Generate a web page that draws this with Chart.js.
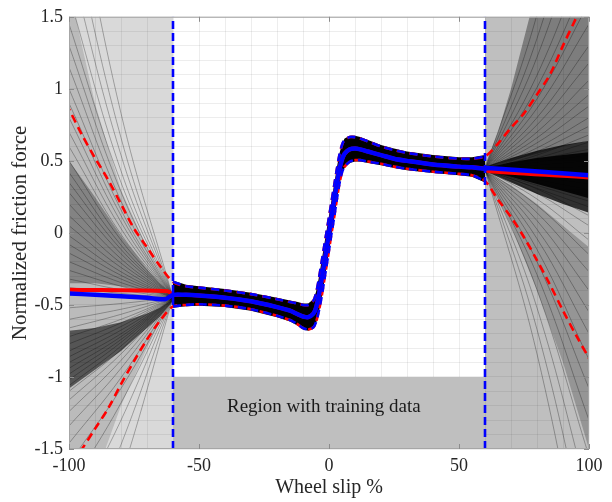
<!DOCTYPE html>
<html>
<head>
<meta charset="utf-8">
<script src="https://cdn.jsdelivr.net/npm/chart.js@4.4.1/dist/chart.umd.min.js"></script>
<style>
html,body{margin:0;padding:0;background:#fff;}
#wrap{width:612px;height:502px;}
</style>
</head>
<body>
<div id="wrap"><canvas id="c" width="612" height="502"></canvas></div>
<script>
// ---------------- DATA ----------------
const xTickLabels = [-100, -50, 0, 50, 100];
const yTickLabels = [-1.5, -1, -0.5, 0, 0.5, 1, 1.5];
const trainingBounds = [-60, 60];
const regionX = [-60, 60];
const regionY = [-1.5, -1];
const regionText = "Region with training data";

// core (training region) curves
const coreX =     [-60, -55, -50, -40, -30, -20, -15, -12, -10, -8, -6, -5, -4, -3, -2, -1, 0, 1, 2, 3, 4, 5, 6, 8, 10, 12, 15, 20, 25, 30, 40, 50, 55, 60];
const coreMean =  [-0.43, -0.43, -0.435, -0.45, -0.475, -0.515, -0.54, -0.565, -0.58, -0.585, -0.56, -0.52, -0.44, -0.34, -0.23, -0.115, 0.0, 0.115, 0.23, 0.34, 0.44, 0.51, 0.55, 0.58, 0.585, 0.58, 0.565, 0.54, 0.515, 0.50, 0.475, 0.46, 0.455, 0.445];
const coreUpper = [-0.34, -0.37, -0.38, -0.40, -0.425, -0.46, -0.48, -0.49, -0.50, -0.50, -0.47, -0.42, -0.33, -0.22, -0.11, 0.0, 0.11, 0.22, 0.33, 0.44, 0.54, 0.61, 0.645, 0.665, 0.665, 0.655, 0.635, 0.60, 0.575, 0.555, 0.53, 0.515, 0.515, 0.53];
const coreLower = [-0.51, -0.50, -0.495, -0.505, -0.53, -0.575, -0.605, -0.635, -0.66, -0.67, -0.655, -0.62, -0.55, -0.46, -0.35, -0.235, -0.12, 0.0, 0.11, 0.23, 0.34, 0.42, 0.46, 0.495, 0.505, 0.505, 0.495, 0.48, 0.46, 0.445, 0.425, 0.41, 0.40, 0.36];
const cloudHi =   [-0.33, -0.36, -0.37, -0.39, -0.415, -0.45, -0.47, -0.48, -0.49, -0.49, -0.46, -0.41, -0.32, -0.21, -0.10, 0.01, 0.12, 0.23, 0.34, 0.45, 0.55, 0.62, 0.655, 0.675, 0.675, 0.665, 0.645, 0.61, 0.585, 0.565, 0.54, 0.525, 0.525, 0.54];
const cloudLo =   [-0.52, -0.51, -0.505, -0.515, -0.54, -0.585, -0.615, -0.645, -0.67, -0.68, -0.665, -0.63, -0.56, -0.47, -0.36, -0.245, -0.13, -0.01, 0.10, 0.22, 0.33, 0.41, 0.45, 0.485, 0.495, 0.495, 0.485, 0.47, 0.45, 0.435, 0.415, 0.40, 0.39, 0.35];

// extrapolation bounds (red dashed)
const leftX = [-100, -95, -90, -85, -80, -75, -70, -65];
const leftUpper = [0.86, 0.68, 0.52, 0.37, 0.20, 0.03, -0.10, -0.23];
const leftLower = [-1.63, -1.50, -1.36, -1.22, -1.05, -0.89, -0.74, -0.61];
const rightX = [65, 70, 75, 80, 85, 90, 95, 100];
const rightUpper = [0.62, 0.73, 0.83, 0.96, 1.10, 1.30, 1.49, 1.68];
const rightLower = [0.23, 0.11, -0.03, -0.19, -0.36, -0.54, -0.71, -0.87];

// extrapolated means
const blueLeftX = [-100, -90, -80, -70, -63];
const blueLeftY = [-0.42, -0.43, -0.44, -0.45, -0.46];
const redLeftX = [-100, -62];
const redLeftY = [-0.395, -0.405];
const blueRightX = [61, 100];
const blueRightY = [0.45, 0.40];
const redRightX = [61, 100];
const redRightY = [0.43, 0.385];

// sample-curve fan lines: value at junction, at mid (x=-80 / x=80) and at edge (x=-100 / x=100)
const leftFanStart = -0.45;
const leftFanMid = [0.83, 0.66, 0.54, 0.43, 0.35, 0.285, 0.22, 0.16, 0.12, 0.075, 0.03, -0.01, -0.05, -0.085, -0.115, -0.145, -0.18, -0.21, -0.24, -0.27, -0.295, -0.32, -0.345, -0.37, -0.395, -0.42,
  -0.49, -0.53, -0.565, -0.60, -0.625, -0.65, -0.675, -0.70, -0.72, -0.74, -0.76, -0.785, -0.81, -0.84, -0.885, -0.94, -1.005, -1.08, -1.18, -1.30, -1.47, -1.69];
const leftFanEnd = [2.6, 2.2, 1.9, 1.65, 1.45, 1.3, 1.15, 1.0, 0.9, 0.8, 0.7, 0.6, 0.5, 0.42, 0.35, 0.28, 0.2, 0.12, 0.05, -0.02, -0.08, -0.14, -0.2, -0.26, -0.32, -0.38,
  -0.52, -0.6, -0.66, -0.72, -0.77, -0.82, -0.86, -0.9, -0.94, -0.98, -1.02, -1.06, -1.1, -1.16, -1.24, -1.34, -1.46, -1.6, -1.78, -2.0, -2.3, -2.7];
const rightFanStart = 0.44;
const rightFanMid = [1.515, 1.35, 1.22, 1.095, 1.01, 0.93, 0.865, 0.80, 0.75, 0.70, 0.66, 0.625, 0.59, 0.565, 0.54, 0.52,
  0.51, 0.49, 0.47, 0.45, 0.43, 0.41, 0.39, 0.37, 0.35, 0.33, 0.31,
  0.305, 0.275, 0.235, 0.19, 0.14, 0.085, 0.025, -0.04, -0.115, -0.20, -0.29, -0.395, -0.52, -0.67, -0.84];
const rightFanEnd = [3.0, 2.6, 2.3, 2.0, 1.8, 1.6, 1.45, 1.3, 1.18, 1.06, 0.96, 0.88, 0.8, 0.74, 0.68, 0.63,
  0.58, 0.54, 0.5, 0.46, 0.42, 0.38, 0.34, 0.3, 0.26, 0.22, 0.18,
  0.12, 0.05, -0.05, -0.15, -0.27, -0.4, -0.55, -0.7, -0.88, -1.08, -1.3, -1.55, -1.85, -2.2, -2.6];

// density wedges of the sample cloud outside the training region
const leftWedgeX = [-60, -65, -70, -80, -90, -100];
const leftRegionHi = [1.5, 1.5, 1.5, 1.5, 1.5, 1.5];
const leftRegionLo = [-1.5, -1.5, -1.5, -1.5, -1.5, -1.5];
const leftWideHi = [-0.44, -0.28, -0.1, 0.3, 0.9, 1.7];
const leftWideLo = [-0.46, -0.62, -0.8, -1.2, -1.7, -2.3];
const leftUpHi = [-0.43, -0.35, -0.25, -0.02, 0.25, 0.5];
const leftUpLo = [-0.45, -0.42, -0.40, -0.37, -0.35, -0.35];
const leftLowHi = [-0.46, -0.52, -0.56, -0.62, -0.66, -0.68];
const leftLowLo = [-0.47, -0.58, -0.66, -0.82, -0.95, -1.08];
const rightWedgeX = [60, 65, 70, 80, 90, 100];
const rightRegionHi = [1.5, 1.5, 1.5, 1.5, 1.5, 1.5];
const rightRegionLo = [-1.5, -1.5, -1.5, -1.5, -1.5, -1.5];
const rightUpHi = [0.47, 0.7, 1.0, 1.7, 2.5, 3.3];
const rightUpLo = [0.45, 0.48, 0.5, 0.55, 0.6, 0.64];
const rightLowHi = [0.43, 0.38, 0.33, 0.2, 0.05, -0.1];
const rightLowLo = [0.43, 0.24, 0.05, -0.4, -0.9, -1.5];
const rightCoreHi = [0.46, 0.49, 0.52, 0.57, 0.61, 0.64];
const rightCoreLo = [0.43, 0.39, 0.35, 0.27, 0.2, 0.14];
const rightInnerHi = [0.455, 0.47, 0.49, 0.52, 0.54, 0.56];
const rightInnerLo = [0.435, 0.41, 0.39, 0.34, 0.29, 0.24];

// ---------------- BUILD ----------------
const pts = (xs, ys) => xs.map((x, i) => ({x, y: ys[i]}));
const poly = (xs, hi, lo) => pts(xs, hi).concat(pts(xs, lo).reverse());
const datasets = [];
function add(d) { datasets.push(Object.assign({pointRadius: 0, borderWidth: 0, fill: false, tension: 0, showLine: true}, d)); }

// blue vertical dashed lines
trainingBounds.forEach(b => add({data: [{x: b, y: -1.5}, {x: b, y: 1.5}], borderColor: '#0000ff', borderWidth: 2.6, borderDash: [8, 4], order: 0}));

// means
const blueMean = pts(blueLeftX, blueLeftY).concat(pts(coreX, coreMean), pts(blueRightX, blueRightY));
const redMean = pts(redLeftX, redLeftY).concat(pts(coreX, coreMean), pts(redRightX, redRightY));
add({data: blueMean, borderColor: '#0000ff', borderWidth: 4.5, tension: 0.3, order: 1});
add({data: redMean, borderColor: '#ff0000', borderWidth: 4, tension: 0.3, order: 2});

// blue dashed bounds (training region)
add({data: pts(coreX, coreUpper), borderColor: '#0000ff', borderWidth: 2.6, borderDash: [8, 5], tension: 0.3, order: 3});
add({data: pts(coreX, coreLower), borderColor: '#0000ff', borderWidth: 2.6, borderDash: [8, 5], tension: 0.3, order: 3});
// red dashed bounds (full range)
add({data: pts(leftX, leftUpper).concat(pts(coreX, coreUpper), pts(rightX, rightUpper)), borderColor: '#ff0000', borderWidth: 2.6, borderDash: [8, 5], borderDashOffset: 6, tension: 0.3, order: 4});
add({data: pts(leftX, leftLower).concat(pts(coreX, coreLower), pts(rightX, rightLower)), borderColor: '#ff0000', borderWidth: 2.6, borderDash: [8, 5], borderDashOffset: 6, tension: 0.3, order: 4});

// black core cloud
add({data: poly(coreX, cloudHi, cloudLo), backgroundColor: '#000000', fill: 'shape', tension: 0, order: 5});

// fan lines
leftFanEnd.forEach((e, i) => add({data: [{x: -100, y: e}, {x: -80, y: leftFanMid[i]}, {x: -60, y: leftFanStart}], borderColor: 'rgba(0,0,0,0.42)', borderWidth: 0.7, tension: 0.4, order: 6}));
rightFanEnd.forEach((e, i) => add({data: [{x: 60, y: rightFanStart}, {x: 80, y: rightFanMid[i]}, {x: 100, y: e}], borderColor: 'rgba(0,0,0,0.42)', borderWidth: 0.7, tension: 0.4, order: 6}));

// density wedges
const wedge = (xs, hi, lo, a, ord) => add({data: poly(xs, hi, lo), backgroundColor: 'rgba(0,0,0,' + a + ')', fill: 'shape', tension: 0, order: ord});
wedge(leftWedgeX, leftRegionHi, leftRegionLo, 0.15, 8);
wedge(leftWedgeX, leftWideHi, leftWideLo, 0.14, 7);
wedge(leftWedgeX, leftUpHi, leftUpLo, 0.3, 7);
wedge(leftWedgeX, leftLowHi, leftLowLo, 0.55, 7);
wedge(rightWedgeX, rightRegionHi, rightRegionLo, 0.25, 8);
wedge(rightWedgeX, rightUpHi, rightUpLo, 0.35, 7);
wedge(rightWedgeX, rightLowHi, rightLowLo, 0.22, 7);
wedge(rightWedgeX, rightCoreHi, rightCoreLo, 0.75, 7);
wedge(rightWedgeX, rightInnerHi, rightInnerLo, 0.9, 7);

// gray training region
add({data: poly(regionX, [regionY[1], regionY[1]], [regionY[0], regionY[0]]), backgroundColor: '#bfbfbf', fill: 'shape', order: 9});

// ---------------- PLUGINS ----------------
const TXT = '#262626';
const boxPlugin = {
  id: 'box',
  afterDatasetsDraw(chart) {
    const {ctx, chartArea: a, scales: {x, y}} = chart;
    ctx.save();
    ctx.fillStyle = '#1a1a1a';
    ctx.font = '19px "Liberation Serif"';
    ctx.textAlign = 'center';
    ctx.textBaseline = 'middle';
    ctx.fillText(regionText, x.getPixelForValue(-2), y.getPixelForValue(-1.21));
    ctx.strokeStyle = '#a6a6a6';
    ctx.lineWidth = 1;
    ctx.strokeRect(a.left + 0.5, a.top + 0.5, a.right - a.left - 1, a.bottom - a.top - 1);
    ctx.strokeStyle = '#8c8c8c';
    ctx.beginPath();
    xTickLabels.forEach(v => {
      const px = Math.round(x.getPixelForValue(v)) + 0.5;
      ctx.moveTo(px, a.bottom); ctx.lineTo(px, a.bottom - 5);
      ctx.moveTo(px, a.top); ctx.lineTo(px, a.top + 5);
    });
    yTickLabels.forEach(v => {
      const py = Math.round(y.getPixelForValue(v)) + 0.5;
      ctx.moveTo(a.left, py); ctx.lineTo(a.left + 5, py);
      ctx.moveTo(a.right, py); ctx.lineTo(a.right - 5, py);
    });
    ctx.stroke();
    ctx.restore();
  }
};

const isLabel = (v, list) => list.some(t => Math.abs(t - v) < 1e-6);

new Chart(document.getElementById('c'), {
  type: 'scatter',
  data: {datasets},
  options: {
    responsive: false,
    animation: false,
    events: [],
    layout: {padding: {top: 11, right: 23, left: 0, bottom: 0}},
    plugins: {legend: {display: false}, tooltip: {enabled: false}},
    elements: {point: {radius: 0}},
    scales: {
      x: {
        type: 'linear', min: -100, max: 100,
        afterFit(s) { s.height = 53; },
        border: {display: false},
        grid: {color: 'rgba(0,0,0,0.07)', borderDash: [2, 3], drawTicks: false, lineWidth: 1},
        ticks: {stepSize: 10, autoSkip: false, maxRotation: 0, padding: 6, color: TXT,
          font: {family: 'Liberation Serif', size: 18},
          callback: v => isLabel(v, xTickLabels) ? String(Math.round(v)) : ''},
        title: {display: true, text: 'Wheel slip %', color: TXT, font: {family: 'Liberation Serif', size: 20}, padding: {top: 0, bottom: 2}}
      },
      y: {
        type: 'linear', min: -1.5, max: 1.5,
        afterFit(s) { s.width = 69; },
        border: {display: false},
        grid: {color: 'rgba(0,0,0,0.07)', borderDash: [2, 3], drawTicks: false, lineWidth: 1},
        ticks: {stepSize: 0.1, autoSkip: false, padding: 6, color: TXT,
          font: {family: 'Liberation Serif', size: 18},
          callback: v => { const r = Math.round(v * 10) / 10; return isLabel(r, yTickLabels) ? String(r) : ''; }},
        title: {display: true, text: 'Normalized friction force', color: TXT, font: {family: 'Liberation Serif', size: 21}, padding: {top: 8, bottom: 0}}
      }
    }
  },
  plugins: [boxPlugin]
});
</script>
</body>
</html>
